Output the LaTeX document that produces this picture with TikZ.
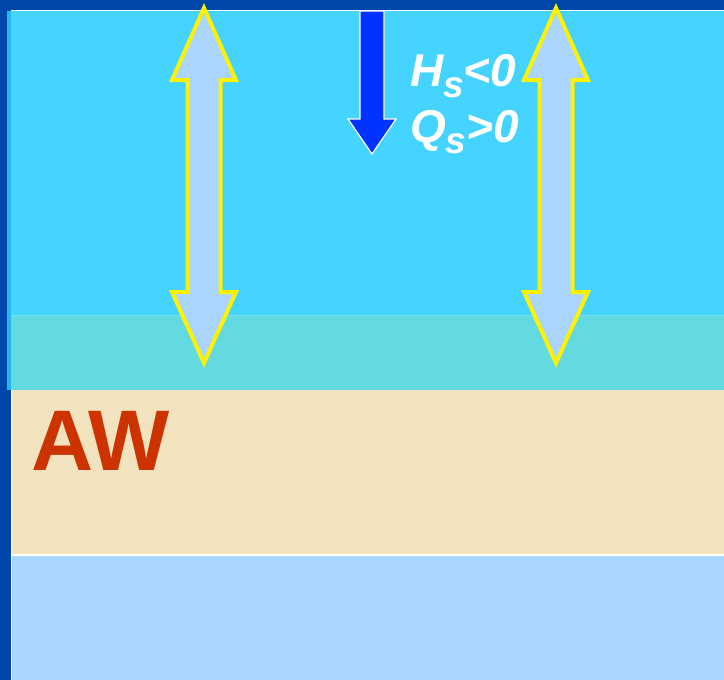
\documentclass[tikz,border=0pt]{standalone}
\usepackage{fontspec}
\setmainfont{Liberation Sans}
\definecolor{frameblue}{RGB}{0,71,171}
\definecolor{seacyan}{RGB}{68,212,255}
\definecolor{stripcyan}{RGB}{34,184,238}
\definecolor{mixturq}{RGB}{98,218,224}
\definecolor{mixline}{RGB}{104,226,250}
\definecolor{awbeige}{RGB}{242,227,190}
\definecolor{deepblue}{RGB}{169,213,255}
\definecolor{awred}{RGB}{204,51,0}
\definecolor{fluxblue}{RGB}{0,51,255}
\begin{document}
\begin{tikzpicture}[x=1pt, y=-1pt]
    % Styles
    \tikzstyle{mixarrow} = [draw=yellow, line width=4pt, fill=deepblue, line join=miter]
    \tikzstyle{fluxarrow} = [draw=white, line width=1.2pt, fill=fluxblue, line join=miter]
    \tikzstyle{fluxlabel} = [text=white, font=\fontsize{46}{48}\selectfont\bfseries\itshape, inner sep=0pt, anchor=base west]
    \tikzstyle{waterlabel} = [text=awred, font=\fontsize{86}{88}\selectfont\bfseries, inner sep=0pt, anchor=base west]
    \newcommand{\lowsub}[1]{\raisebox{-11pt}{\fontsize{37}{37}\selectfont #1}}

    % === FRAME AND LAYERS ===
    \fill [frameblue] (0,0) rectangle (724,680);
    \useasboundingbox (0,0) rectangle (724,680);
    \fill [stripcyan] (7,11) rectangle (11,390);
    \fill [seacyan] (11,11) rectangle (724,315);
    \fill [mixturq] (11,315) rectangle (724,390);
    \draw [mixline, line width=1.5pt] (11,315.5) -- (724,315.5);
    \fill [awbeige] (12,390) rectangle (724,554);
    \fill [deepblue] (12,556) rectangle (724,680);
    \draw [white, line width=1.2pt] (11,10.5) -- (724,10.5);
    \draw [white, line width=1.5pt] (11.5,390) -- (11.5,680);
    \draw [white, line width=2pt] (12,555) -- (724,555);

    % === ARROWS: mixing ===
    \foreach \cx in {204,556} {
        \draw [mixarrow] (\cx,8) -- (\cx+32,80) -- (\cx+16.5,80) -- (\cx+16.5,292)
            -- (\cx+32,292) -- (\cx,363) -- (\cx-32,292) -- (\cx-16.5,292)
            -- (\cx-16.5,80) -- (\cx-32,80) -- cycle;
    }

    % === ARROW: surface flux ===
    \draw [fluxarrow] (360,11) -- (384,11) -- (384,119) -- (396,119) -- (372,154)
        -- (348,119) -- (360,119) -- cycle;

    % === Labels ===
    \node [fluxlabel] (heatflux) at (410,86) {H\lowsub{s}<0};
    \node [fluxlabel] (saltflux) at (410,142) {Q\lowsub{s}>0};
    \node [waterlabel] (aw) at (31,470) {AW};
\end{tikzpicture}
\end{document}
